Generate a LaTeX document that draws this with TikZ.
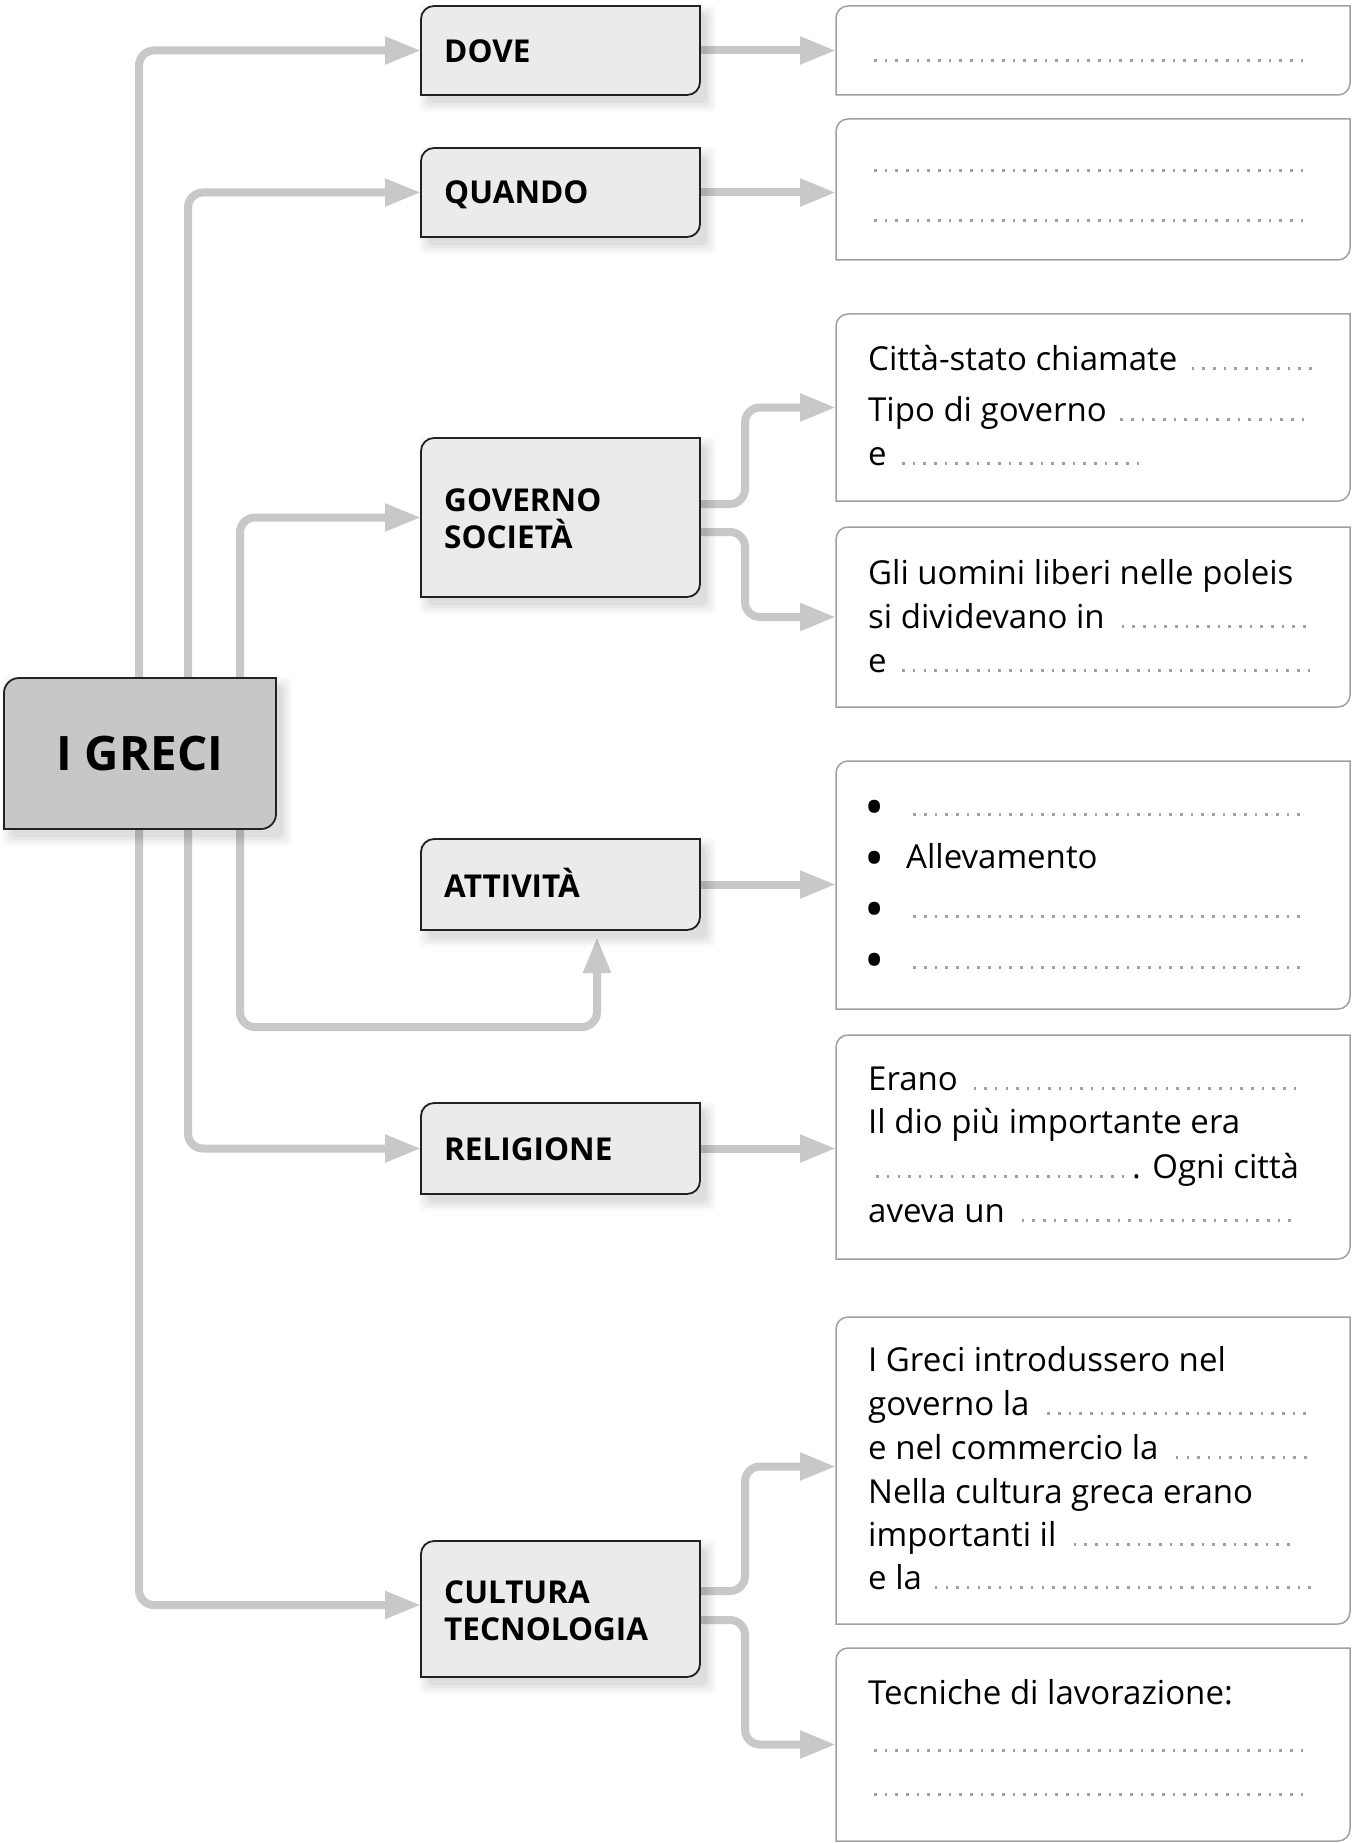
\documentclass[tikz,border=0pt]{standalone}
\usepackage{fontspec}
\setmainfont{Open Sans}
\usetikzlibrary{arrows.meta,calc}
\definecolor{cgray}{HTML}{C8C8C8}
\definecolor{lfill}{HTML}{EBEBEB}
\definecolor{gfill}{HTML}{C6C7C6}
\definecolor{bord}{HTML}{222222}
\definecolor{rbord}{HTML}{A0A0A0}
\definecolor{dotc}{HTML}{A0A0A0}
\newcommand\dfill{\cleaders\hbox to 10.67pt{\hss\textcolor{dotc}{\rule{2.6pt}{2.6pt}}\hss}\hfill}
\newcommand\dl[2]{\makebox[#1pt][l]{#2\dfill}}
\newcommand\cbox[3]{\path[#2] (#1.south west) -- ([yshift=-#3]#1.north west) arc[start angle=180,end angle=90,radius=#3] -- (#1.north east) -- ([yshift=#3]#1.south east) arc[start angle=0,end angle=-90,radius=#3] -- cycle;}
\newcommand\boxshadow[1]{\foreach \e/\o in {9/0.025,6/0.03,3/0.035,0/0.04}{\fill[black,opacity=\o,rounded corners=6pt] ($(#1.south west)+(7-\e,-8-\e)$) rectangle ($(#1.north east)+(7+\e,-8+\e)$);}}
\tikzset{
  boxnode/.style={rectangle, inner sep=0pt, outer sep=0pt, draw=none},
  lbox/.style={boxnode, minimum width=279pt},
  rbox/.style={boxnode, minimum width=514pt},
  link/.style={draw=cgray, line width=8pt, rounded corners=15pt, -{Triangle[length=36pt,width=26pt]}},
  lfillst/.style={fill=lfill, draw=bord, line width=1.8pt},
  gfillst/.style={fill=gfill, draw=bord, line width=1.8pt},
  rfillst/.style={fill=white, draw=rbord, line width=1.5pt},
  lbl/.style={anchor=base west, inner sep=0pt, font=\bfseries\fontsize{31.5pt}{37pt}\selectfont},
  txt/.style={anchor=base west, inner sep=0pt, font=\fontsize{33pt}{44pt}\selectfont},
  bul/.style={anchor=center, inner sep=0pt, font=\fontsize{54pt}{54pt}\selectfont}
}
\begin{document}
\begin{tikzpicture}[x=1pt,y=1pt]
\fill[white] (0,0) rectangle (1352,-1843);
\useasboundingbox (0,0) rectangle (1352,-1843);
% box nodes
\node[boxnode, minimum width=272pt, minimum height=151pt] (greci) at (140,-753.5) {};
\node[lbox, minimum height=89pt] (dove) at (560.5,-50.5) {};
\node[lbox, minimum height=89pt] (quando) at (560.5,-192.5) {};
\node[lbox, minimum height=159pt] (gov) at (560.5,-517.5) {};
\node[lbox, minimum height=91pt] (att) at (560.5,-884.5) {};
\node[lbox, minimum height=91pt] (rel) at (560.5,-1148.5) {};
\node[lbox, minimum height=136pt] (cult) at (560.5,-1609) {};
\node[rbox, minimum height=89pt] (r1) at (1093,-50.5) {};
\node[rbox, minimum height=141pt] (r2) at (1093,-189.5) {};
\node[rbox, minimum height=187pt] (r3) at (1093,-407.5) {};
\node[rbox, minimum height=180pt] (r4) at (1093,-617) {};
\node[rbox, minimum height=248pt] (r5) at (1093,-885) {};
\node[rbox, minimum height=224pt] (r6) at (1093,-1147) {};
\node[rbox, minimum height=307pt] (r7) at (1093,-1470.5) {};
\node[rbox, minimum height=193pt] (r8) at (1093,-1744.5) {};
\coordinate (loop) at ([xshift=36.5pt,yshift=-97pt]att.south);
\coordinate (atttip) at ([xshift=36.5pt,yshift=-7pt]att.south);
% connectors
\draw[link] ([xshift=135pt]greci.north west) |- (dove.west);
\draw[link] ([xshift=184pt]greci.north west) |- (quando.west);
\draw[link] ([xshift=236pt]greci.north west) |- (gov.west);
\draw[link] ([xshift=236pt]greci.south west) |- (loop) -- (atttip);
\draw[link] ([xshift=184pt]greci.south west) |- (rel.west);
\draw[link] ([xshift=135pt]greci.south west) |- ([yshift=4pt]cult.west);
\draw[link] (dove.east) -- (dove.east -| r1.west);
\draw[link] (quando.east) -- (quando.east -| r2.west);
\draw[link] ([yshift=13.5pt]gov.east) -- ++(45,0) |- (r3.west);
\draw[link] ([yshift=-14.5pt]gov.east) -- ++(45,0) |- (r4.west);
\draw[link] (att.east) -- (att.east -| r5.west);
\draw[link] (rel.east) -- (rel.east -| r6.west);
\draw[link] ([yshift=18pt]cult.east) -- ++(45,0) |- ([yshift=4pt]r7.west);
\draw[link] ([yshift=-11pt]cult.east) -- ++(45,0) |- (r8.west);
% shadows
\boxshadow{greci}
\boxshadow{dove}
\boxshadow{quando}
\boxshadow{gov}
\boxshadow{att}
\boxshadow{rel}
\boxshadow{cult}
% boxes
\cbox{greci}{gfillst}{15pt}
\cbox{dove}{lfillst}{13pt}
\cbox{quando}{lfillst}{13pt}
\cbox{gov}{lfillst}{13pt}
\cbox{att}{lfillst}{13pt}
\cbox{rel}{lfillst}{13pt}
\cbox{cult}{lfillst}{13pt}
\cbox{r1}{rfillst}{12pt}
\cbox{r2}{rfillst}{12pt}
\cbox{r3}{rfillst}{12pt}
\cbox{r4}{rfillst}{12pt}
\cbox{r5}{rfillst}{12pt}
\cbox{r6}{rfillst}{12pt}
\cbox{r7}{rfillst}{12pt}
\cbox{r8}{rfillst}{12pt}
% labels
\node[anchor=center, inner sep=0pt, font=\bfseries\fontsize{47.5pt}{47.5pt}\selectfont] (tgreci) at (greci.center) {I GRECI};
\node[lbl] (tdove) at (444,-63) {DOVE};
\node[lbl] (tquando) at (444,-204) {QUANDO};
\node[lbl] (tgov1) at (444,-511) {GOVERNO};
\node[lbl] (tgov2) at (444,-548) {SOCIETÀ};
\node[lbl] (tatt) at (444,-897) {ATTIVITÀ};
\node[lbl] (trel) at (444,-1160) {RELIGIONE};
\node[lbl] (tcult1) at (444,-1603) {CULTURA};
\node[lbl] (tcult2) at (444,-1640) {TECNOLOGIA};
% right texts
\node[txt] (r1a) at (868,-62) {\dl{441}{}};
\node[txt] (r2a) at (868,-172) {\dl{441}{}};
\node[txt] (r2b) at (868,-222) {\dl{441}{}};
\node[txt] (r3a) at (868,-370) {\dl{449}{Città-stato chiamate\ }};
\node[txt] (r3b) at (868,-421) {\dl{441}{Tipo di governo\ }};
\node[txt] (r3c) at (868,-465) {\dl{278}{e\ }};
\node[txt] (r4a) at (868,-584) {Gli uomini liberi nelle poleis};
\node[txt] (r4b) at (868,-628) {\dl{446}{si dividevano in\ }};
\node[txt] (r4c) at (868,-672) {\dl{449}{e\ }};
\node[bul] (b1) at (874.5,-813.5) {•};
\node[bul] (b2) at (874.5,-864.5) {•};
\node[bul] (b3) at (874.5,-915.5) {•};
\node[bul] (b4) at (874.5,-966.5) {•};
\node[txt] (r5a) at (906,-816) {\dl{401}{}};
\node[txt] (r5b) at (906,-868) {Allevamento};
\node[txt] (r5c) at (906,-918) {\dl{401}{}};
\node[txt] (r5d) at (906,-969) {\dl{401}{}};
\node[txt] (r6a) at (868,-1090) {\dl{435}{Erano\ }};
\node[txt] (r6b) at (868,-1133) {Il dio più importante era};
\node[txt] (r6c) at (868,-1178) {\dl{264}{}. Ogni città};
\node[txt] (r6d) at (868,-1222) {\dl{431}{aveva un\ }};
\node[txt] (r7a) at (868,-1371) {I Greci introdussero nel};
\node[txt] (r7b) at (868,-1415) {\dl{447}{governo la\ }};
\node[txt] (r7c) at (868,-1459) {\dl{447}{e nel commercio la\ }};
\node[txt] (r7d) at (868,-1503) {Nella cultura greca erano};
\node[txt] (r7e) at (868,-1546) {\dl{430}{importanti il\ }};
\node[txt] (r7f) at (868,-1589) {\dl{447}{e la\ }};
\node[txt] (r8a) at (868,-1704) {Tecniche di lavorazione:};
\node[txt] (r8b) at (868,-1752) {\dl{441}{}};
\node[txt] (r8c) at (868,-1796) {\dl{441}{}};
\end{tikzpicture}
\end{document}
